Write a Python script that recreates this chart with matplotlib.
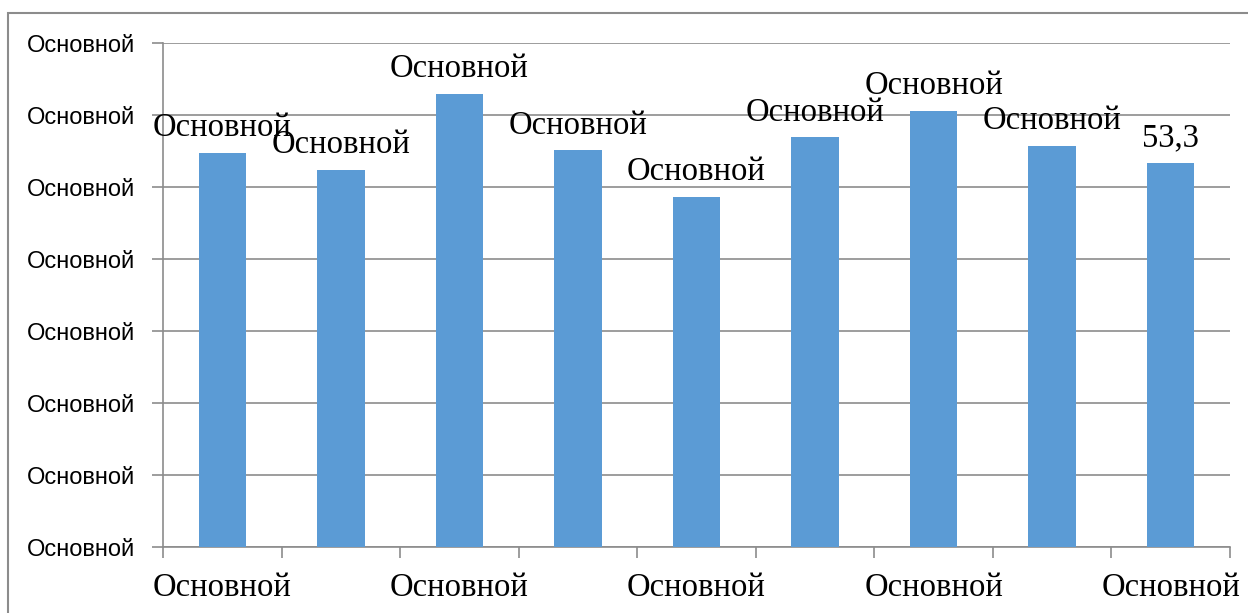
import matplotlib
matplotlib.use('Agg')
import matplotlib.pyplot as plt
from matplotlib.patches import Rectangle

# data
values = [54.7, 52.4, 62.9, 55.1, 48.6, 56.9, 60.6, 55.7, 53.3]
bar_labels = ['Основной'] * 8 + ['53,3']
y_ticks = [0, 10, 20, 30, 40, 50, 60, 70]
y_tick_labels = ['Основной'] * len(y_ticks)
x_label_pos = [0, 2, 4, 6, 8]
x_labels = ['Основной'] * len(x_label_pos)

grey = '#8c8c8c'
bar_color = '#5B9BD5'

fig = plt.figure(figsize=(12.48, 6.13), dpi=100)
ax = fig.add_axes([163 / 1248, 1 - 547 / 613, (1230 - 163) / 1248, (547 - 43) / 613])

x = list(range(len(values)))
bars = ax.bar(x, values, width=0.4, color=bar_color, zorder=3)

# data labels above bars
for xi, v, lab in zip(x, values, bar_labels):
    ax.annotate(lab, (xi, v), xytext=(0, 7), textcoords='offset points',
                ha='center', va='bottom', fontsize=23.5, family='Liberation Serif', zorder=4)

ax.set_xlim(-0.5, len(values) - 0.5)
ax.set_ylim(0, 70)
ax.set_yticks(y_ticks)
ax.set_yticklabels(y_tick_labels, fontsize=17, family='Liberation Sans')
ax.yaxis.grid(True, color=grey, lw=1.2, zorder=0)
ax.tick_params(axis='y', length=8, width=1.2, color=grey, pad=12)

# category boundary ticks, labels on every other category
ax.set_xticks([i - 0.5 for i in range(len(values) + 1)])
ax.set_xticklabels([])
ax.set_xticks(x_label_pos, minor=True)
ax.set_xticklabels(x_labels, minor=True, fontsize=23.5, family='Liberation Serif')
ax.tick_params(axis='x', which='major', length=8, width=1.2, color=grey)
ax.tick_params(axis='x', which='minor', length=0, pad=18)

for s in ['top', 'right']:
    ax.spines[s].set_visible(False)
for s in ['left', 'bottom']:
    ax.spines[s].set_color(grey)
    ax.spines[s].set_linewidth(1.2)

# outer chart frame
fig.patches.append(Rectangle((8 / 1248, -0.1), 1.2, (613 - 13) / 613 + 0.1,
                             transform=fig.transFigure, fill=False,
                             edgecolor=grey, lw=1.5))

fig.savefig('out.png', dpi=100)
